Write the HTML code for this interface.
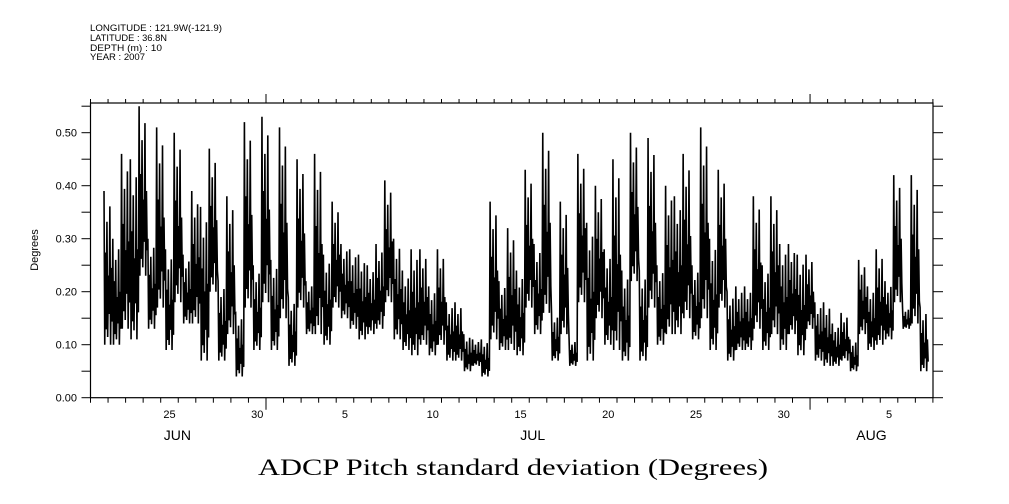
<!DOCTYPE html>
<html><head><meta charset="utf-8"><style>
html,body{margin:0;padding:0;background:#fff;}
svg{display:block;font-family:"Liberation Sans",sans-serif;}
</style></head><body>
<svg id="chart" width="1009" height="504" viewBox="0 0 1009 504" xmlns="http://www.w3.org/2000/svg">
<g font-size="9" fill="#000">
<text x="90" y="31" textLength="132" lengthAdjust="spacingAndGlyphs">LONGITUDE : 121.9W(-121.9)</text>
<text x="90" y="41" textLength="77" lengthAdjust="spacingAndGlyphs">LATITUDE : 36.8N</text>
<text x="90" y="51" textLength="72" lengthAdjust="spacingAndGlyphs">DEPTH (m) : 10</text>
<text x="90" y="60" textLength="55" lengthAdjust="spacingAndGlyphs">YEAR : 2007</text>
</g>
<g id="axes"></g>
<g id="series"></g>
<text x="38" y="250" transform="rotate(-90 38 250)" text-anchor="middle" font-size="11">Degrees</text>
<text x="258" y="475" textLength="510" lengthAdjust="spacingAndGlyphs" font-family="Liberation Serif,serif" font-size="23">ADCP Pitch standard deviation (Degrees)</text>
</svg>
<script>
// half-day slots starting at day 0.77 after Jun 21 00:00
const startDay = 0.77;
const slotDays = 0.5;
const highs = [0.39,0.30,0.46,0.45,0.55,0.30,0.51,0.28,0.50,0.27,0.39,0.36,0.47,0.22,0.38,0.16,0.52,0.25,0.53,0.26,0.51,0.19,0.45,0.22,0.46,0.27,0.37,0.29,0.28,0.27,0.25,0.29,
0.41,0.30,0.24,0.28,0.28,0.21,0.28,0.18,0.18,0.12,0.11,0.11,0.37,0.22,0.32,0.24,0.43,0.29,0.50,0.16,0.37,0.11,0.46,0.33,0.40,0.28,0.45,0.24,0.50,0.24,0.49,0.25,0.40,
0.38,0.46,0.25,0.51,0.30,0.43,0.20,0.21,0.21,0.38,0.25,0.38,0.29,0.29,0.27,0.27,0.18,0.18,0.14,0.16,0.11,0.26,0.21,0.28,0.22,0.42,0.17,0.42,0.17];
const lows = [0.10,0.10,0.13,0.11,0.23,0.13,0.17,0.09,0.18,0.14,0.14,0.07,0.20,0.07,0.12,0.04,0.17,0.09,0.18,0.09,0.15,0.06,0.17,0.12,0.12,0.10,0.17,0.15,0.13,0.11,0.12,0.13,
0.18,0.11,0.09,0.08,0.10,0.08,0.10,0.07,0.07,0.05,0.06,0.04,0.11,0.09,0.09,0.08,0.17,0.12,0.16,0.07,0.12,0.06,0.18,0.07,0.15,0.10,0.09,0.07,0.22,0.07,0.17,0.10,0.12,
0.12,0.15,0.11,0.15,0.09,0.17,0.07,0.09,0.09,0.13,0.09,0.12,0.09,0.12,0.08,0.13,0.07,0.06,0.06,0.07,0.05,0.12,0.09,0.10,0.11,0.18,0.13,0.14,0.05];
const yTickLabels = ["0.00","0.10","0.20","0.30","0.40","0.50"];
const dayLabels = [[4,"25"],[9,"30"],[14,"5"],[19,"10"],[24,"15"],[29,"20"],[34,"25"],[39,"30"],[45,"5"]];
const monthLabels = [[4.95,"JUN"],[25.2,"JUL"],[44.5,"AUG"]];

const X0=90.5, X1=933, Y0=397.7, YT=103, PXD=17.55, PXU=530;
const xs = d => X0 + d*PXD;
const ys = v => Y0 - v*PXU;
const NS="http://www.w3.org/2000/svg";
const axes=document.getElementById('axes');
function mk(tag,attrs,parent){const e=document.createElementNS(NS,tag);for(const k in attrs)e.setAttribute(k,attrs[k]);parent.appendChild(e);return e;}

const frame=mk('rect',{x:X0,y:YT,width:X1-X0,height:Y0-YT,fill:'none',stroke:'#000','stroke-width':1.2},axes);



for(let d=0; d<=48; d++){
  const x=xs(d); const long=(d===10||d===41);
  const t1=mk('line',{x1:x,y1:Y0,x2:x,y2:Y0+(long?12:5),stroke:'#000','stroke-width':1},axes);
  
  
  const t2=mk('line',{x1:x,y1:YT,x2:x,y2:YT-(long?9:4),stroke:'#000','stroke-width':1},axes);
  
  
}
for(let i=0;i<=11;i++){
  const v=i*0.05, y=ys(v);
  const a=mk('line',{x1:X0-9,y1:y,x2:X0,y2:y,stroke:'#000','stroke-width':1},axes);
  
  
  const b=mk('line',{x1:X1,y1:y,x2:X1+10,y2:y,stroke:'#000','stroke-width':1},axes);
  
  
}
yTickLabels.forEach((s,i)=>{
  const t=mk('text',{x:77,y:ys(i*0.1)+4,'text-anchor':'end','font-size':11},axes);
  t.textContent=s;
  
  
});
dayLabels.forEach(([d,s])=>{
  const t=mk('text',{x:xs(d+0.5),y:418,'text-anchor':'middle','font-size':11},axes);
  t.textContent=s;
  
  
});
monthLabels.forEach(([d,s])=>{
  const t=mk('text',{x:xs(d),y:440,'text-anchor':'middle','font-size':14},axes);
  t.textContent=s;
  
  
});

const fr=[1,0,0.6,0.1,0.8,0.05,0.45,0.2,0.9,0.0,0.5,0.15];
let pts=[];
for(let k=0;k<highs.length;k++){
  const d0=startDay+k*slotDays;
  for(let j=0;j<fr.length;j++){
    const d=d0+slotDays*j/fr.length;
    const v=lows[k]+(highs[k]-lows[k])*fr[j];
    pts.push(xs(d).toFixed(2)+','+ys(v).toFixed(2));
  }
}
const line=mk('polyline',{points:pts.join(' '),fill:'none',stroke:'#000','stroke-width':1.6,'stroke-linejoin':'miter'},document.getElementById('series'));


</script>
</body></html>
